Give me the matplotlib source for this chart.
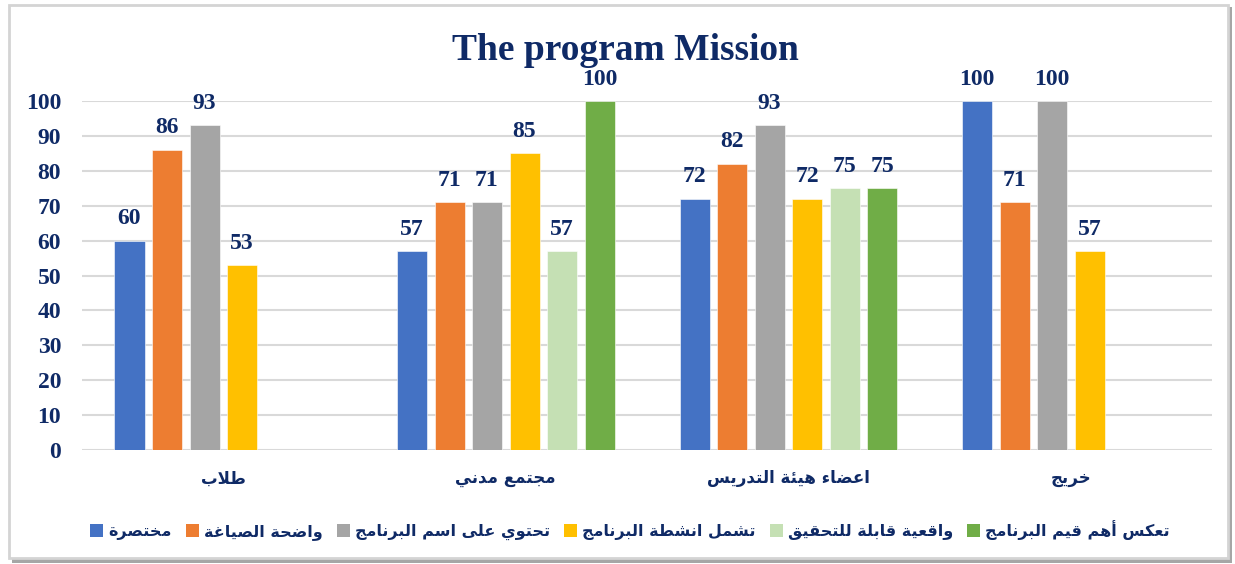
import matplotlib
matplotlib.use("Agg")
import matplotlib.pyplot as plt
import matplotlib.patches as mpatches
import numpy as np

# ---------------- data ----------------
categories = ["طلاب", "مجتمع مدني", "اعضاء هيئة التدريس", "خريج"]
series_names = ["مختصرة", "واضحة الصياغة", "تحتوي على اسم البرنامج",
                "تشمل انشطة البرنامج", "واقعية قابلة للتحقيق", "تعكس أهم قيم البرنامج"]
mukhtasara = [60, 57, 72, 100]
wadiha = [86, 71, 82, 71]
tahtawi = [93, 71, 93, 100]
tashmal = [53, 85, 72, 57]
waqiiya = [None, 57, 75, None]
taks = [None, 100, 75, None]
series_values = [mukhtasara, wadiha, tahtawi, tashmal, waqiiya, taks]
y_ticks = [0, 10, 20, 30, 40, 50, 60, 70, 80, 90, 100]
title = "The program Mission"

colors = ["#4472C4", "#ED7D31", "#A5A5A5", "#FFC000", "#C5E0B4", "#70AD47"]
navy = "#0F2A66"

# ------------- simple Arabic shaping (for display only) -------------
_seq = [('ء', 0xFE80, 1), ('آ', 0xFE81, 2), ('أ', 0xFE83, 2), ('ؤ', 0xFE85, 2),
        ('إ', 0xFE87, 2), ('ئ', 0xFE89, 4), ('ا', 0xFE8D, 2), ('ب', 0xFE8F, 4),
        ('ة', 0xFE93, 2), ('ت', 0xFE95, 4), ('ث', 0xFE99, 4), ('ج', 0xFE9D, 4),
        ('ح', 0xFEA1, 4), ('خ', 0xFEA5, 4), ('د', 0xFEA9, 2), ('ذ', 0xFEAB, 2),
        ('ر', 0xFEAD, 2), ('ز', 0xFEAF, 2), ('س', 0xFEB1, 4), ('ش', 0xFEB5, 4),
        ('ص', 0xFEB9, 4), ('ض', 0xFEBD, 4), ('ط', 0xFEC1, 4), ('ظ', 0xFEC5, 4),
        ('ع', 0xFEC9, 4), ('غ', 0xFECD, 4), ('ف', 0xFED1, 4), ('ق', 0xFED5, 4),
        ('ك', 0xFED9, 4), ('ل', 0xFEDD, 4), ('م', 0xFEE1, 4), ('ن', 0xFEE5, 4),
        ('ه', 0xFEE9, 4), ('و', 0xFEED, 2), ('ى', 0xFEEF, 2), ('ي', 0xFEF1, 4)]
FORMS = {c: tuple(chr(s + k) for k in range(n)) for c, s, n in _seq}
LAMALEF = {'آ': ('\uFEF5', '\uFEF6'), 'أ': ('\uFEF7', '\uFEF8'),
           'إ': ('\uFEF9', '\uFEFA'), 'ا': ('\uFEFB', '\uFEFC')}


def shape(text):
    chars = list(text)
    n = len(chars)
    res = []
    prev_joins = False
    i = 0
    while i < n:
        c = chars[i]
        if c == 'ل' and i + 1 < n and chars[i + 1] in LAMALEF:
            lig = LAMALEF[chars[i + 1]]
            res.append(lig[1] if prev_joins else lig[0])
            prev_joins = False
            i += 2
            continue
        if c not in FORMS:
            res.append(c)
            prev_joins = False
            i += 1
            continue
        f = FORMS[c]
        nxt = chars[i + 1] if i + 1 < n else None
        to_next = len(f) == 4 and nxt is not None and nxt in FORMS and len(FORMS[nxt]) >= 2
        to_prev = prev_joins and len(f) >= 2
        if len(f) == 1:
            form = f[0]
        elif to_prev and to_next:
            form = f[3]
        elif to_prev:
            form = f[1]
        elif to_next:
            form = f[2]
        else:
            form = f[0]
        res.append(form)
        prev_joins = to_next
        i += 1
    return ''.join(reversed(res))


# ---------------- figure ----------------
W, H = 1235, 564
fig = plt.figure(figsize=(W / 100, H / 100), dpi=100)
fig.patch.set_facecolor("white")

# frame with shadow
shadow = mpatches.Rectangle((12 / W, 1 - 563 / H), 1220 / W, 556 / H,
                            transform=fig.transFigure, facecolor="#A6A6A6",
                            edgecolor="none", zorder=-3)
frame = mpatches.Rectangle((9 / W, 1 - 558 / H), 1219 / W, 553 / H,
                           transform=fig.transFigure, facecolor="white",
                           edgecolor="#D4D4D4", linewidth=2, zorder=-2)
fig.patches.extend([shadow, frame])

left, right, top, bottom = 82, 1212, 101, 450
ax = fig.add_axes([left / W, 1 - bottom / H, (right - left) / W, (bottom - top) / H])
ax.set_facecolor("none")

n_groups = len(categories)
n_series = len(series_values)
slot = 37.5 / 282.5
bar_w = 30 / 282.5
x = np.arange(n_groups)

arabic_font = dict(family="DejaVu Sans", weight="bold")
serif_font = dict(family="Liberation Serif", weight="bold")

for s, (vals, col) in enumerate(zip(series_values, colors)):
    offs = (s - (n_series - 1) / 2) * slot
    for g, v in enumerate(vals):
        if v is None:
            continue
        ax.bar(x[g] + offs, v, width=bar_w, color=col, zorder=3,
               edgecolor="#FFFFFF", linewidth=0.4)
        ax.annotate(str(v), (x[g] + offs, v), xytext=(0, 8.2),
                    textcoords="offset points", ha="center", va="bottom",
                    color=navy, fontsize=17, annotation_clip=False, **serif_font)

ax.set_xlim(-0.5, n_groups - 0.5)
ax.set_ylim(0, 100)
ax.set_yticks(y_ticks)
ax.set_yticklabels([str(t) for t in y_ticks], color=navy, fontsize=17, **serif_font)
ax.tick_params(axis="y", length=0, pad=15)
ax.set_xticks(x)
ax.set_xticklabels([shape(c) for c in categories], color=navy, fontsize=12, **arabic_font)
ax.tick_params(axis="x", length=0, pad=14)
ax.grid(axis="y", color="#D9D9D9", linewidth=1.5, zorder=0)
ax.set_axisbelow(True)
for sp in ax.spines.values():
    sp.set_visible(False)

fig.text(625 / W, 1 - 50 / H, title, ha="center", va="center",
         fontsize=27, color=navy, **serif_font)

handles = [mpatches.Patch(facecolor=c, edgecolor="none") for c in colors]
fig.legend(handles, [shape(s) for s in series_names], loc="center",
           bbox_to_anchor=(630 / W, 1 - 530 / H), ncol=6, frameon=False,
           handlelength=0.81, handleheight=0.81, handletextpad=0.31,
           columnspacing=0.9, prop=dict(family="DejaVu Sans", weight="bold", size=11.5),
           labelcolor=navy)

fig.savefig("out.png", dpi=100)
